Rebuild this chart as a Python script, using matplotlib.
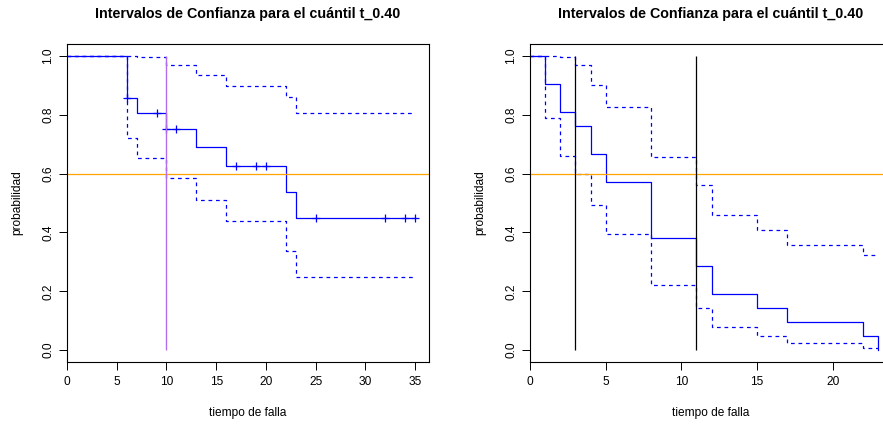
"""Kaplan-Meier curves with confidence bands and the t_0.40 quantile interval."""

import matplotlib

matplotlib.use("Agg")

import matplotlib.pyplot as plt

plt.rcParams["font.family"] = ["Liberation Sans", "DejaVu Sans"]

TITLE = "Intervalos de Confianza para el cuántil t_0.40"
X_LABEL = "tiempo de falla"
Y_LABEL = "probabilidad"
P_LEVEL = 0.6

# panel 1: survival estimate with censoring, 95% log bands
LEFT_TIMES = [0, 6, 7, 10, 13, 16, 22, 23, 35]
LEFT_SURV = [1.0, 0.857, 0.807, 0.753, 0.690, 0.627, 0.538, 0.448, 0.448]
LEFT_UPPER = [1.0, 1.0, 0.997, 0.968, 0.935, 0.896, 0.859, 0.807, 0.807]
LEFT_LOWER = [1.0, 0.720, 0.653, 0.586, 0.510, 0.439, 0.337, 0.249, 0.249]
LEFT_CENSOR_T = [6, 9, 10, 11, 17, 19, 20, 25, 32, 34, 35]
LEFT_CENSOR_S = [0.857, 0.807, 0.753, 0.753, 0.627, 0.627, 0.627,
                 0.448, 0.448, 0.448, 0.448]
LEFT_QUANTILE = [10]
LEFT_XTICKS = [0, 5, 10, 15, 20, 25, 30, 35]

# panel 2: survival estimate without censoring
RIGHT_TIMES = [0, 1, 2, 3, 4, 5, 8, 11, 12, 15, 17, 22, 23]
RIGHT_SURV = [1.0, 0.905, 0.810, 0.762, 0.667, 0.571, 0.381,
              0.286, 0.190, 0.143, 0.095, 0.048, 0.0]
RIGHT_UPPER = [1.0, 1.0, 0.996, 0.968, 0.902, 0.827, 0.657,
               0.562, 0.460, 0.407, 0.356, 0.323, 0.323]
RIGHT_LOWER = [1.0, 0.787, 0.658, 0.600, 0.493, 0.395, 0.221,
               0.145, 0.079, 0.050, 0.026, 0.007, 0.007]
RIGHT_QUANTILE_CI = [3, 11]
RIGHT_XTICKS = [0, 5, 10, 15, 20]

Y_TICKS = [0.0, 0.2, 0.4, 0.6, 0.8, 1.0]

BLUE = "#0000FF"
ORANGE = "#FFA500"
PURPLE = "#B06EEE"

FIG_W, FIG_H = 883, 425
BOX_W, BOX_H = 362, 318
BOX_TOP = 44


def make_axes(fig, left_px):
    return fig.add_axes([left_px / FIG_W, (FIG_H - BOX_TOP - BOX_H) / FIG_H,
                         BOX_W / FIG_W, BOX_H / FIG_H])


def style_axes(ax, xmax, xticks):
    ax.set_xlim(0, xmax)
    ax.set_ylim(-0.04, 1.04)
    ax.set_xticks(xticks, [str(t) for t in xticks])
    ax.set_yticks(Y_TICKS, [f"{v:.1f}" for v in Y_TICKS])
    for label in ax.get_yticklabels():
        label.set_rotation(90)
        label.set_va("center")
    ax.tick_params(axis="both", direction="out", length=5.8, width=0.7,
                   labelsize=8.6, color="black")
    ax.tick_params(axis="x", pad=4.5)
    ax.tick_params(axis="y", pad=3.5)
    for spine in ax.spines.values():
        spine.set_linewidth(0.8)
    ax.set_xlabel(X_LABEL, fontsize=8.6, va="center")
    ax.xaxis.set_label_coords(0.5, -0.160)
    ax.set_ylabel(Y_LABEL, fontsize=8.6, va="center")
    ax.yaxis.set_label_coords(-0.136, 0.5)
    ax.text(0.5, 1.095, TITLE, transform=ax.transAxes, ha="center",
            va="center", fontsize=10.3, fontweight="bold")


def draw_curves(ax, times, surv, upper, lower):
    dash = (0, (3, 3))
    ax.plot(times, surv, drawstyle="steps-post", color=BLUE, linewidth=0.9)
    ax.plot(times, upper, drawstyle="steps-post", color=BLUE, linewidth=0.9,
            linestyle=dash)
    ax.plot(times, lower, drawstyle="steps-post", color=BLUE, linewidth=0.9,
            linestyle=dash)


def main():
    fig = plt.figure(figsize=(FIG_W / 100, FIG_H / 100), dpi=100)

    ax = make_axes(fig, 67)
    draw_curves(ax, LEFT_TIMES, LEFT_SURV, LEFT_UPPER, LEFT_LOWER)
    ax.plot(LEFT_CENSOR_T, LEFT_CENSOR_S, linestyle="none", marker="+",
            markersize=6, markeredgewidth=0.9, color=BLUE)
    ax.axhline(P_LEVEL, color=ORANGE, linewidth=0.9)
    ax.vlines(LEFT_QUANTILE, 0, 1, color=PURPLE, linewidth=1.0)
    style_axes(ax, 36.4, LEFT_XTICKS)

    ax = make_axes(fig, 530)
    draw_curves(ax, RIGHT_TIMES, RIGHT_SURV, RIGHT_UPPER, RIGHT_LOWER)
    ax.axhline(P_LEVEL, color=ORANGE, linewidth=0.9)
    ax.vlines(RIGHT_QUANTILE_CI, 0, 1, color="black", linewidth=0.9)
    style_axes(ax, 23.92, RIGHT_XTICKS)

    fig.savefig("out.png", dpi=100)
    plt.close(fig)


if __name__ == "__main__":
    main()
